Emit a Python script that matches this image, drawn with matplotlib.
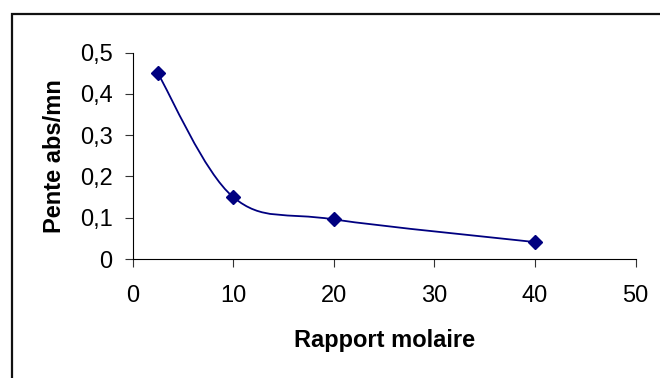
import matplotlib
matplotlib.use("Agg")
import matplotlib.pyplot as plt
import numpy as np
from matplotlib.path import Path
from matplotlib.patches import PathPatch, Rectangle

# data
rapport = [2.5, 10, 20, 40]
pente = [0.45, 0.15, 0.096, 0.041]
xticks = [0, 10, 20, 30, 40, 50]
yticks = [0, 0.1, 0.2, 0.3, 0.4, 0.5]
ytick_labels = ["0", "0,1", "0,2", "0,3", "0,4", "0,5"]

navy = "#000080"
plt.rcParams["font.family"] = ["Liberation Sans", "DejaVu Sans"]

fig = plt.figure(figsize=(6.6, 3.78), dpi=100)
ax = fig.add_axes([0.201, 0.3148, 0.762, 0.5458])

# smoothed line (Excel style, Catmull-Rom bezier through the points)
pts = np.column_stack([rapport, pente])
verts = [pts[0]]
codes = [Path.MOVETO]
for i in range(len(pts) - 1):
    p0 = pts[max(i - 1, 0)]
    p1 = pts[i]
    p2 = pts[i + 1]
    p3 = pts[min(i + 2, len(pts) - 1)]
    c1 = p1 + (p2 - p0) / 6
    c2 = p2 - (p3 - p1) / 6
    verts += [c1, c2, p2]
    codes += [Path.CURVE4] * 3
ax.add_patch(PathPatch(Path(verts, codes), fill=False, edgecolor=navy, lw=1.3, zorder=2))

ax.plot(rapport, pente, linestyle="none", marker="D", ms=7.5, color=navy, zorder=3)

ax.set_xlim(0, 50)
ax.set_ylim(0, 0.5)
ax.set_xticks(xticks)
ax.set_yticks(yticks)
ax.set_yticklabels(ytick_labels)
ax.tick_params(direction="out", length=5.5, width=0.8, labelsize=17, color="#333333")
ax.tick_params(axis="y", pad=9)
ax.tick_params(axis="x", pad=13)
for s in ["top", "right"]:
    ax.spines[s].set_visible(False)
for s in ["left", "bottom"]:
    ax.spines[s].set_linewidth(0.8)

ax.set_xlabel("Rapport molaire", fontsize=17, fontweight="bold", labelpad=16)
ax.set_ylabel("Pente abs/mn", fontsize=17, fontweight="bold", labelpad=10)

# chart frame (cut off at right and bottom)
fig.add_artist(Rectangle((11.5 / 660, -0.1), 1.2, 1 - 13.5 / 378 + 0.1,
                         transform=fig.transFigure, fill=False,
                         edgecolor="#111111", lw=1.6))

fig.savefig("out.png", dpi=100)
